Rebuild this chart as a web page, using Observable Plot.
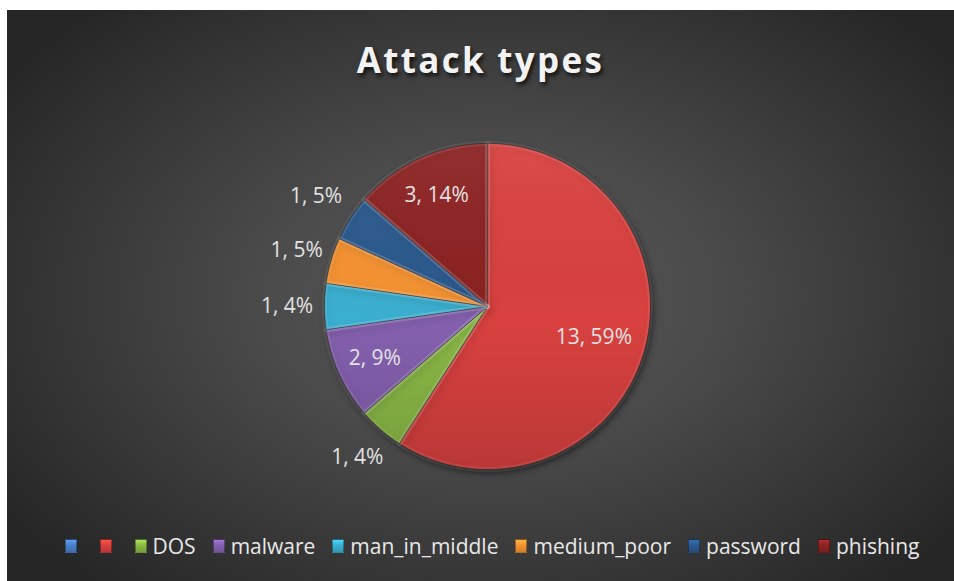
<!DOCTYPE html>
<html>
<head>
<meta charset="utf-8">
<script src="https://cdn.jsdelivr.net/npm/d3@7"></script>
<script src="https://cdn.jsdelivr.net/npm/@observablehq/plot@0.6"></script>
<style>
  html, body { margin: 0; padding: 0; background: #ffffff; width: 954px; height: 581px; overflow: hidden; }
  #panel {
    position: absolute; left: 7px; top: 10px; width: 947px; height: 571px; overflow: hidden;
    background: radial-gradient(ellipse 62% 68% at 51% 50%, #585858 0%, #4b4b4b 38%, #353535 75%, #262626 100%);
    font-family: "Open Sans", Lato, sans-serif;
  }
  #title {
    position: absolute; left: 0; top: 26px; width: 100%; text-align: center;
    color: #f2f2f2; font-weight: bold; font-size: 35px; letter-spacing: 2.3px;
    text-shadow: 2px 3px 4px rgba(0,0,0,0.75);
  }
  #chart { position: absolute; left: 200px; top: 86px; }
  #chart g[aria-label="line"] { filter: drop-shadow(2px 3px 3px rgba(0,0,0,0.55)); }
  #legend {
    position: absolute; left: 0; top: 522px; width: 100%; box-sizing: border-box; padding-left: 23px;
    display: flex; justify-content: center; align-items: center;
    color: #e8e8e8; font-size: 21px;
  }
  .item { display: flex; align-items: center; margin: 0 8.5px; }
  .swatch { width: 12px; height: 14px; margin-right: 6px; box-sizing: border-box;
    border: 1px solid rgba(0,0,0,0.35); }
</style>
</head>
<body>
<div id="panel">
  <div id="title">Attack types</div>
  <div id="chart"></div>
  <div id="legend"></div>
</div>
<script>
// ---- data ----
const categories = ["", "", "DOS", "malware", "man_in_middle", "medium_poor", "password", "phishing"];
const counts = [0, 13, 1, 2, 1, 1, 1, 3];
const percentLabels = ["", "59%", "4%", "9%", "4%", "5%", "5%", "14%"];
// ---- styling ----
const colors = ["#4a80c8", "#d8413f", "#8ab846", "#8460ae", "#3bafd0", "#f49232", "#2c5a8e", "#8d2323"];
const labelRadius = [0, 0.68, 1.22, 0.76, 1.23, 1.22, 1.25, 0.75];
const R = 163; // pie radius in px

const pie = d3.pie().sort(null).value(d => d.count)(
  categories.map((c, i) => ({i, cat: c, count: counts[i]}))
);

// polygon outline of each wedge, in units of the radius
const wedgePts = [];
pie.forEach(s => {
  if (s.data.count <= 0) return;
  const i = s.data.i;
  wedgePts.push({k: i, x: 0, y: 0, color: colors[i]});
  const n = Math.max(2, Math.ceil((s.endAngle - s.startAngle) / (Math.PI / 360)));
  for (let j = 0; j <= n; j++) {
    const a = s.startAngle + (s.endAngle - s.startAngle) * j / n;
    wedgePts.push({k: i, x: Math.sin(a), y: Math.cos(a), color: colors[i]});
  }
});

const labels = pie.filter(s => s.data.count > 0).map(s => {
  const i = s.data.i, a = (s.startAngle + s.endAngle) / 2, r = labelRadius[i];
  return {x: r * Math.sin(a), y: r * Math.cos(a), text: `${counts[i]}, ${percentLabels[i]}`};
});

const W = 560, H = 420;
const svg = Plot.plot({
  width: W, height: H, margin: 0,
  style: {background: "transparent", fontFamily: "'Open Sans', Lato, sans-serif", fontSize: "21px", overflow: "visible"},
  x: {domain: [-W / 2 / R, W / 2 / R], axis: null},
  y: {domain: [-H / 2 / R, H / 2 / R], axis: null},
  color: {type: "identity"},
  marks: [
    Plot.line(wedgePts, {x: "x", y: "y", z: "k", fill: "color", stroke: "rgba(0,0,0,0.5)", strokeWidth: 1, strokeLinejoin: "round", curve: "linear-closed"}),
    Plot.line(wedgePts, {x: "x", y: "y", z: "k", fill: "none", stroke: "rgba(255,255,255,0.09)", strokeWidth: 5, curve: "linear-closed"}),
    Plot.dot([{x: 0, y: 0}], {x: "x", y: "y", r: R, fill: "url(#pieShade)", stroke: "none"}),
    Plot.text(labels, {x: "x", y: "y", text: "text", fill: "#e2e2e2", textAnchor: "middle"})
  ]
});

// shading overlay gradient (top lighter, bottom darker)
const defs = d3.select(svg).insert("defs", ":first-child");
const lg = defs.append("linearGradient").attr("id", "pieShade").attr("x1", 0).attr("y1", 0).attr("x2", 0).attr("y2", 1);
lg.append("stop").attr("offset", "0%").attr("stop-color", "#ffffff").attr("stop-opacity", 0.06);
lg.append("stop").attr("offset", "55%").attr("stop-color", "#000000").attr("stop-opacity", 0.0);
lg.append("stop").attr("offset", "100%").attr("stop-color", "#000000").attr("stop-opacity", 0.14);

document.getElementById("chart").appendChild(svg);

// legend
const legend = d3.select("#legend");
categories.forEach((c, i) => {
  const it = legend.append("div").attr("class", "item");
  it.append("div").attr("class", "swatch")
    .style("background", `linear-gradient(to bottom, ${d3.color(colors[i]).brighter(0.6)}, ${colors[i]} 45%, ${d3.color(colors[i]).darker(0.4)})`);
  it.append("span").text(c);
});
</script>
</body>
</html>
